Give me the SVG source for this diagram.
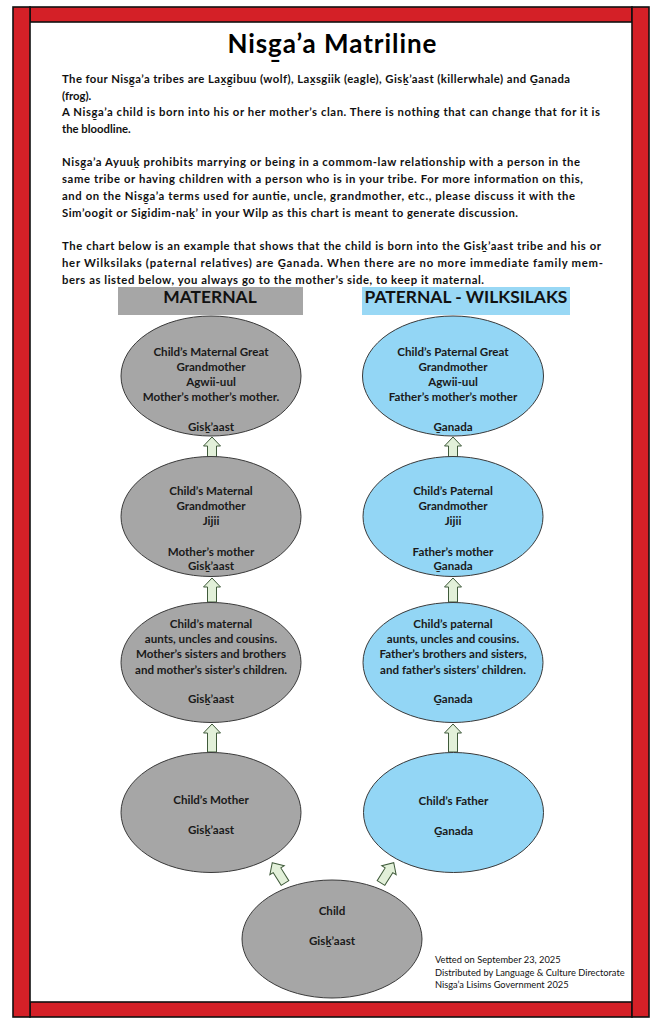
<svg xmlns="http://www.w3.org/2000/svg" width="663" height="1024" viewBox="0 0 663 1024">
<defs>
<style>
.bar{fill:#d42027;stroke:#111;stroke-width:1.6}
.title{font-family:Lato,"Noto Sans","Liberation Sans",sans-serif;font-weight:bold;font-size:26px;fill:#000}
.p{font-family:Lato,"Noto Sans","Liberation Sans",sans-serif;font-weight:bold;font-size:11.3px;fill:#111}
.hdr{font-family:Lato,"Noto Sans","Liberation Sans",sans-serif;font-weight:bold;font-size:17.4px;fill:#111;text-anchor:middle}
.nt{font-family:Lato,"Noto Sans","Liberation Sans",sans-serif;font-weight:bold;font-size:11.6px;fill:#1a1a1a;text-anchor:middle}
.ft{font-family:Lato,"Noto Sans","Liberation Sans",sans-serif;font-size:9.3px;fill:#111}
.gray{fill:#a6a6a6;stroke:#3a3a3a;stroke-width:1}
.blue{fill:#93d6f5;stroke:#3a3a3a;stroke-width:1}
.arr{fill:#e2f0d9;stroke:#3f5a3a;stroke-width:1}
</style>
</defs>
<rect x="0" y="0" width="663" height="1024" fill="#fff"/>
<g id="border">
<rect class="bar" x="30" y="7" width="602" height="15"/>
<rect class="bar" x="30" y="1002" width="602" height="15"/>
<rect class="bar" x="13" y="7" width="17" height="1010"/>
<rect class="bar" x="632" y="7" width="17" height="1010"/>
</g>
<g id="title">
<text class="title" x="332" y="53" text-anchor="middle" textLength="209">Nisg̱a’a Matriline</text>
</g>
<g id="intro">
<text class="p" x="62" y="82.8" textLength="508">The four Nisg̱a’a tribes are Lax̱g̱ibuu (wolf), Lax̱sgiik (eagle), Gisḵ’aast (killerwhale) and G̱anada</text>
<text class="p" x="62" y="99.6">(frog).</text>
<text class="p" x="62" y="116.4" textLength="538">A Nisg̱a’a child is born into his or her mother’s clan. There is  nothing that can change that for it is</text>
<text class="p" x="62" y="133.2">the bloodline.</text>
<text class="p" x="62" y="166.4" textLength="518">Nisg̱a’a Ayuuḵ prohibits marrying or being in a commom-law relationship with a person in the</text>
<text class="p" x="62" y="183.2" textLength="521">same tribe or having children with a person who is in your tribe. For more information on this,</text>
<text class="p" x="62" y="200" textLength="513">and on the Nisg̱a’a terms used for auntie, uncle, grandmother, etc., please discuss it with the</text>
<text class="p" x="62" y="216.8" textLength="456">Sim’oogit or Sigidim-naḵ’ in your Wilp as this chart is meant to generate discussion.</text>
<text class="p" x="62" y="250.4" textLength="539">The chart below is an example that shows that the child is born into the Gisḵ’aast tribe and his or</text>
<text class="p" x="62" y="267.2" textLength="541">her Wilksilaks (paternal relatives) are G̱anada. When there are no more immediate family mem-</text>
<text class="p" x="62" y="284" textLength="422">bers as listed below, you always go to the mother’s side, to keep it maternal.</text>
</g>
<g id="hdr-maternal">
<rect x="118" y="287" width="185" height="28" fill="#a6a6a6"/>
<text class="hdr" x="210" y="303">MATERNAL</text>
</g>
<g id="hdr-paternal">
<rect x="362" y="287" width="208" height="28" fill="#99d8f5"/>
<text class="hdr" x="466" y="303">PATERNAL - WILKSILAKS</text>
</g>
<g id="connectors">
<polygon class="arr" points="212,437 220.5,446 216.5,446 216.5,457 207.5,457 207.5,446 203.5,446"/>
<polygon class="arr" points="453,437 461.5,446 457.5,446 457.5,457 448.5,457 448.5,446 444.5,446"/>
<polygon class="arr" points="212,578 220.5,587 216.5,587 216.5,602 207.5,602 207.5,587 203.5,587"/>
<polygon class="arr" points="453,578 461.5,587 457.5,587 457.5,602 448.5,602 448.5,587 444.5,587"/>
<polygon class="arr" points="212,724 220.5,733 216.5,733 216.5,752 207.5,752 207.5,733 203.5,733"/>
<polygon class="arr" points="453,724 461.5,733 457.5,733 457.5,752 448.5,752 448.5,733 444.5,733"/>
<polygon class="arr" transform="translate(285,883) rotate(-32)" points="0,-24 8.5,-15 4.5,-15 4.5,0 -4.5,0 -4.5,-15 -8.5,-15"/>
<polygon class="arr" transform="translate(381,883) rotate(32)" points="0,-24 8.5,-15 4.5,-15 4.5,0 -4.5,0 -4.5,-15 -8.5,-15"/>
</g>
<g id="n-mat-great">
<ellipse class="gray" cx="211" cy="376" rx="90" ry="60"/>
<text class="nt" x="211" y="355.7">Child’s Maternal Great</text>
<text class="nt" x="211" y="370.7">Grandmother</text>
<text class="nt" x="211" y="385.7">Agwii-uul</text>
<text class="nt" x="211" y="400.7">Mother’s mother’s mother.</text>
<text class="nt" x="211" y="430.7">Gisḵ’aast</text>
</g>
<g id="n-pat-great">
<ellipse class="blue" cx="453" cy="376" rx="90.5" ry="60"/>
<text class="nt" x="453" y="355.7">Child’s Paternal Great</text>
<text class="nt" x="453" y="370.7">Grandmother</text>
<text class="nt" x="453" y="385.7">Agwii-uul</text>
<text class="nt" x="453" y="400.7">Father’s mother’s mother</text>
<text class="nt" x="453" y="430.7">G̱anada</text>
</g>
<g id="n-mat-grand">
<ellipse class="gray" cx="211" cy="516.5" rx="90" ry="60"/>
<text class="nt" x="211" y="495">Child’s Maternal</text>
<text class="nt" x="211" y="510.3">Grandmother</text>
<text class="nt" x="211" y="525">Jijii</text>
<text class="nt" x="211" y="555.7">Mother’s mother</text>
<text class="nt" x="211" y="570">Gisḵ’aast</text>
</g>
<g id="n-pat-grand">
<ellipse class="blue" cx="453" cy="516.5" rx="90" ry="60"/>
<text class="nt" x="453" y="495">Child’s Paternal</text>
<text class="nt" x="453" y="510.3">Grandmother</text>
<text class="nt" x="453" y="525">Jijii</text>
<text class="nt" x="453" y="555.7">Father’s mother</text>
<text class="nt" x="453" y="570">G̱anada</text>
</g>
<g id="n-mat-aunts">
<ellipse class="gray" cx="211" cy="662.5" rx="90" ry="60"/>
<text class="nt" x="211" y="628">Child’s maternal</text>
<text class="nt" x="211" y="643.3">aunts, uncles and cousins.</text>
<text class="nt" x="211" y="658.3">Mother’s sisters and brothers</text>
<text class="nt" x="211" y="674">and mother’s sister’s children.</text>
<text class="nt" x="211" y="703.3">Gisḵ’aast</text>
</g>
<g id="n-pat-aunts">
<ellipse class="blue" cx="453" cy="662.5" rx="90" ry="60"/>
<text class="nt" x="453" y="628">Child’s paternal</text>
<text class="nt" x="453" y="643.3">aunts, uncles and cousins.</text>
<text class="nt" x="453" y="658.3">Father’s brothers and sisters,</text>
<text class="nt" x="453" y="674">and father’s sisters’ children.</text>
<text class="nt" x="453" y="703.3">G̱anada</text>
</g>
<g id="n-mother">
<ellipse class="gray" cx="211" cy="812.5" rx="90" ry="60"/>
<text class="nt" x="211" y="804">Child’s Mother</text>
<text class="nt" x="211" y="834">Gisḵ’aast</text>
</g>
<g id="n-father">
<ellipse class="blue" cx="453.5" cy="812.5" rx="90" ry="60"/>
<text class="nt" x="453.5" y="804.7">Child’s Father</text>
<text class="nt" x="453.5" y="834.7">G̱anada</text>
</g>
<g id="n-child">
<ellipse class="gray" cx="332" cy="939" rx="90" ry="59"/>
<text class="nt" x="332" y="914.7">Child</text>
<text class="nt" x="332" y="944.7">Gisḵ’aast</text>
</g>
<g id="footer">
<text class="ft" x="435" y="963">Vetted on September 23, 2025</text>
<text class="ft" x="435" y="975.5">Distributed by Language &amp; Culture Directorate</text>
<text class="ft" x="435" y="988">Nisga’a Lisims Government 2025</text>
</g>
</svg>
